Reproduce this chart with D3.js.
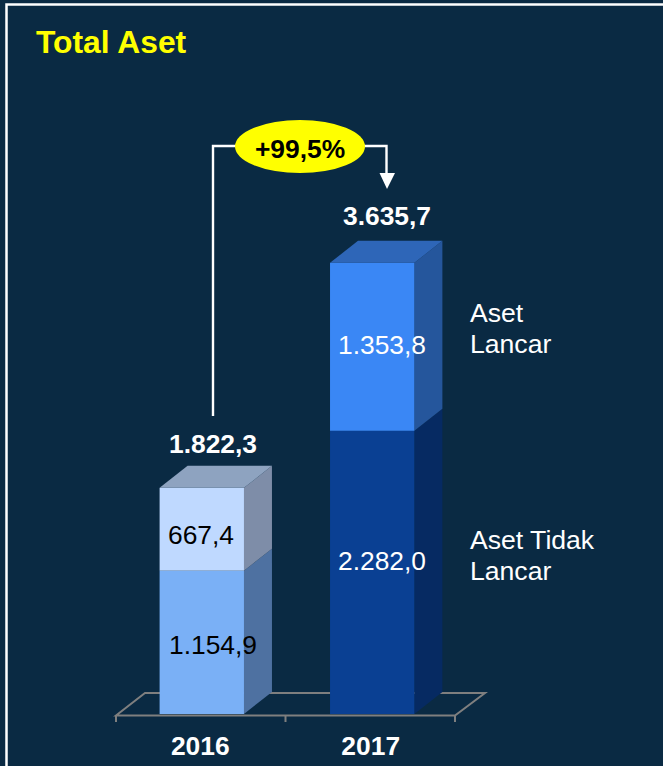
<!DOCTYPE html>
<html><head><meta charset="utf-8">
<style>html,body{margin:0;padding:0;background:#0a2a43}svg{display:block}text{font-family:"Liberation Sans",Arial,sans-serif}</style>
<script src="https://cdn.jsdelivr.net/npm/d3@7"></script>
</head><body><script>
const years = ["2016","2017"];
const nonCurrent = [1154.9,2282.0];
const current = [667.4,1353.8];
const totals = [1822.3,3635.7];
const totalLabels = ["1.822,3","3.635,7"];
const nonCurrentLabels = ["1.154,9","2.282,0"];
const currentLabels = ["667,4","1.353,8"];
const seriesNames = [["Aset","Lancar"],["Aset Tidak","Lancar"]];
const titleText = "Total Aset";
const growthLabel = "+99,5%";

const W=663,H=766,dx=28,dy=-22;
const svg=d3.select("body").append("svg").attr("width",W).attr("height",H);
const x=d3.scaleBand().domain(years).range([117,457]).paddingInner(0.505).paddingOuter(0.25);
const y=d3.scaleLinear().domain([0,4000]).range([714,714-0.1241*4000]);

svg.append("rect").attr("width",W).attr("height",H).attr("fill","#0a2a43");
svg.append("path").attr("d","M6.5,766V4.5H663").attr("fill","none").attr("stroke","#fff").attr("stroke-width",2.5);
svg.append("text").attr("x",36).attr("y",53).attr("font-size",31.8).attr("font-weight","bold").attr("fill","#ffff00").text(titleText);

// floor
const floor=svg.append("g").attr("fill","none").attr("stroke","#7f7f7f").attr("stroke-width",2);
const fl=[116,455];
floor.append("path").attr("d",`M${fl[0]},${y(0)+1.5}L${fl[0]+29},${y(0)-21}H${fl[1]+30}L${fl[1]},${y(0)+1.5}Z`);
const tickX=[fl[0],(fl[0]+fl[1])/2,fl[1]];
floor.selectAll("line").data(tickX).join("line").attr("x1",d=>d).attr("x2",d=>d).attr("y1",y(0)+1.5).attr("y2",y(0)+8);

const segs=[
 {vals:i=>[0,nonCurrent[i]],front:["#7ab0f6","#0a4093"],side:["#4e71a1","#062a62"],top:[null,null]},
 {vals:i=>[nonCurrent[i],totals[i]],front:["#bfd9ff","#3a87f5"],side:["#7e8da8","#25569c"],top:["#8ea3c0","#2e66b8"]}
];
const g=svg.append("g");
years.forEach((yr,i)=>{
 const x0=x(yr),x1=x0+x.bandwidth();
 segs.forEach(s=>{
  const [a,b]=s.vals(i);
  const ya=y(a),yb=y(b);
  g.append("path").attr("fill",s.side[i]).attr("d",`M${x1},${ya}L${x1+dx},${ya+dy}V${yb+dy}L${x1},${yb}Z`);
  if(s.top[i]) g.append("path").attr("fill",s.top[i]).attr("d",`M${x0},${yb}L${x0+dx},${yb+dy}H${x1+dx}L${x1},${yb}Z`);
  g.append("rect").attr("x",x0).attr("y",yb).attr("width",x1-x0).attr("height",ya-yb).attr("fill",s.front[i]);
 });
});

// value labels
const lab=(t,xx,yy,fs,fill,w,anchor)=>svg.append("text").attr("x",xx).attr("y",yy).attr("font-size",fs).attr("fill",fill).attr("font-weight",w||"normal").attr("text-anchor",anchor||"middle").text(t);
const cx=i=>x(years[i])+x.bandwidth()/2;
lab(nonCurrentLabels[0],213,654,26.4,"#000");
lab(currentLabels[0],201,544,26.4,"#000");
lab(nonCurrentLabels[1],382,570,26.4,"#fff");
lab(currentLabels[1],382,354,26.4,"#fff");
lab(totalLabels[0],213,453,26.4,"#fff","bold");
lab(totalLabels[1],387,225,26.4,"#fff","bold");
years.forEach((yr,i)=>lab(yr,cx(i)-1.5,755,26.4,"#fff","bold"));
seriesNames.forEach((ls,k)=>ls.forEach((t,j)=>lab(t,470,(k?549:322)+j*31,26.6,"#fff","normal","start")));

// growth arrow
svg.append("path").attr("d","M213,416V146H386.5V175").attr("fill","none").attr("stroke","#fff").attr("stroke-width",2.4);
svg.append("path").attr("d","M379.5,173H395L387,189Z").attr("fill","#fff");
svg.append("ellipse").attr("cx",300).attr("cy",146.5).attr("rx",65).attr("ry",26.5).attr("fill","#ffff00");
lab(growthLabel,300,158,26.4,"#000","bold");
</script></body></html>
